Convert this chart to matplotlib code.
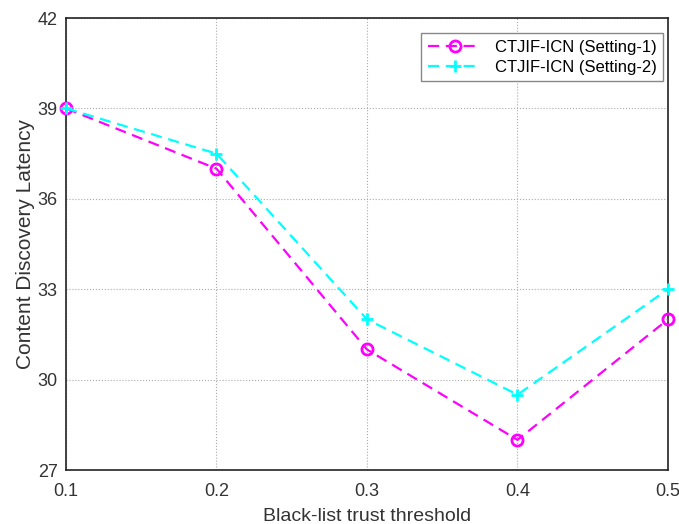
import matplotlib
matplotlib.use("Agg")
import matplotlib.pyplot as plt

plt.rcParams['font.family'] = ['Liberation Sans', 'DejaVu Sans']

thresholds = [0.1, 0.2, 0.3, 0.4, 0.5]
setting1 = [39, 37, 31, 28, 32]
setting2 = [39, 37.5, 32, 29.5, 33]

fig = plt.figure(figsize=(6.79, 5.24), dpi=100)
ax = fig.add_axes([0.0972, 0.103, 0.8866, 0.8626])

ax.plot(thresholds, setting1, '--o', color='#ff00ff', lw=1.6, ms=8, dashes=(5, 3),
        mfc='none', mew=2, label='CTJIF-ICN (Setting-1)', clip_on=False, zorder=3)
ax.plot(thresholds, setting2, '--+', color='#00ffff', lw=1.6, ms=9, dashes=(5, 3),
        mew=2, label='CTJIF-ICN (Setting-2)', clip_on=False, zorder=3)

ax.set_xlim(0.1, 0.5)
ax.set_ylim(27, 42)
ax.set_xticks([0.1, 0.2, 0.3, 0.4, 0.5])
ax.set_yticks([27, 30, 33, 36, 39, 42])
ax.tick_params(labelsize=13, colors='#333333', direction='in', length=0)
ax.tick_params(axis='x', pad=9)
ax.tick_params(axis='y', pad=6)
ax.grid(True, linestyle=':', color='#aaaaaa', linewidth=0.8)
ax.set_axisbelow(True)
for s in ax.spines.values():
    s.set_color('#222222')
    s.set_linewidth(1.2)

ax.set_xlabel('Black-list trust threshold', fontsize=14, color='#333333', labelpad=6)
ax.set_ylabel('Content Discovery Latency', fontsize=15, color='#333333', labelpad=2)

leg = ax.legend(loc='upper right', bbox_to_anchor=(1.006, 0.985), fontsize=12,
                fancybox=False, framealpha=1, edgecolor='#888888',
                handlelength=3.2, borderpad=0.4, labelspacing=0.3)

fig.savefig('out.png', dpi=100)
